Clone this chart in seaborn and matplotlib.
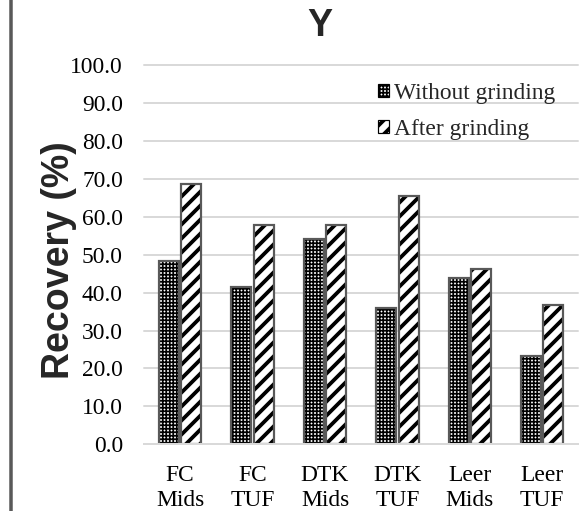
import matplotlib
matplotlib.use("Agg")
import matplotlib.pyplot as plt
import seaborn as sns
import pandas as pd
from matplotlib.patches import Patch, Rectangle
from matplotlib.lines import Line2D
from matplotlib.ticker import StrMethodFormatter

# Recovery data per sample
categories = ["FC\nMids", "FC\nTUF", "DTK\nMids", "DTK\nTUF", "Leer\nMids", "Leer\nTUF"]
series_names = ["Without grinding", "After grinding"]
without_grinding = [48.4, 41.6, 54.0, 35.9, 43.8, 23.3]
after_grinding = [68.5, 57.9, 57.9, 65.5, 46.3, 36.8]
y_ticks = [0, 10, 20, 30, 40, 50, 60, 70, 80, 90, 100]

DPI = 84
W, H = 579, 511


def pt(px):
    """Convert a pixel size to points at the output resolution."""
    return px * 72 / DPI


sns.set_theme(style="white")
plt.rcParams["font.family"] = ["Liberation Serif", "DejaVu Serif"]
SANS = ["Liberation Sans", "DejaVu Sans"]

df = pd.DataFrame({
    "Sample": categories * 2,
    "Treatment": [series_names[0]] * len(categories) + [series_names[1]] * len(categories),
    "Recovery": without_grinding + after_grinding,
})

fig = plt.figure(figsize=(W / DPI, H / DPI), dpi=DPI)
ax = fig.add_axes([144 / W, 1 - 444.3 / H, (578.4 - 144) / W, (444.3 - 65) / H])

sns.barplot(data=df, x="Sample", y="Recovery", hue="Treatment",
            order=categories, hue_order=series_names,
            palette=["white", "white"], saturation=1, width=0.62, gap=0.11,
            errorbar=None, legend=False, ax=ax)

# fine checker for the unground samples, bold diagonal stripes after grinding
hatches = ["++++", "//"]
hatch_lws = [pt(1.7), pt(3.8)]
for cont, hatch, hlw in zip(ax.containers, hatches, hatch_lws):
    for bar in cont:
        bar.set_hatch(hatch)
        bar.set_edgecolor("black")
        bar.set_linewidth(0)
        if hasattr(bar, "set_hatch_linewidth"):
            bar.set_hatch_linewidth(hlw)
        outline = Rectangle(bar.get_xy(), bar.get_width(), bar.get_height(),
                            fill=False, edgecolor="#595959", linewidth=pt(2.2),
                            zorder=bar.get_zorder() + 0.1)
        ax.add_patch(outline)

ax.set_ylim(0, 100)
ax.set_yticks(y_ticks)
ax.yaxis.set_major_formatter(StrMethodFormatter("{x:.1f}"))
ax.yaxis.grid(True, color="#d9d9d9", linewidth=pt(2))
ax.set_axisbelow(True)
for gl in ax.yaxis.get_gridlines():
    gl.set_clip_on(False)
for side in ["top", "right", "left"]:
    ax.spines[side].set_visible(False)
ax.spines["bottom"].set_color("#d9d9d9")
ax.spines["bottom"].set_linewidth(pt(2))
ax.tick_params(axis="y", length=0, pad=pt(21), labelsize=pt(23.5), labelcolor="black")
ax.tick_params(axis="x", length=0, pad=pt(21), labelsize=pt(23.5), labelcolor="black")
for lab in ax.get_xticklabels():
    lab.set_linespacing(1.22)
ax.set_xlabel("")
ax.set_ylabel("")

fig.text(59 / W, 1 - 260 / H, "Recovery (%)", rotation=90, ha="center", va="center",
         fontsize=pt(37.5), fontweight="bold", family=SANS)
fig.text(320 / W, 1 - 26 / H, "Y", ha="center", va="center",
         fontsize=pt(37.5), fontweight="bold", family=SANS)

handles = [Patch(facecolor="white", edgecolor="black", hatch=h, linewidth=pt(1.2), label=n)
           for n, h in zip(series_names, hatches)]
leg = fig.legend(handles=handles, loc="upper left", bbox_to_anchor=(378 / W, 1 - 83 / H),
                 frameon=False, handlelength=0.45, handleheight=0.45, handletextpad=0.25,
                 labelspacing=0.62, borderpad=0, borderaxespad=0,
                 prop={"size": pt(23.5), "family": ["Liberation Serif", "DejaVu Serif"]})
for p, hlw in zip(leg.get_patches(), hatch_lws):
    if hasattr(p, "set_hatch_linewidth"):
        p.set_hatch_linewidth(hlw)

# left border rule
fig.add_artist(Line2D([10.5 / W, 10.5 / W], [0, 1], transform=fig.transFigure,
                      color="#595959", linewidth=pt(3.5)))

fig.savefig("out.png", dpi=DPI)
